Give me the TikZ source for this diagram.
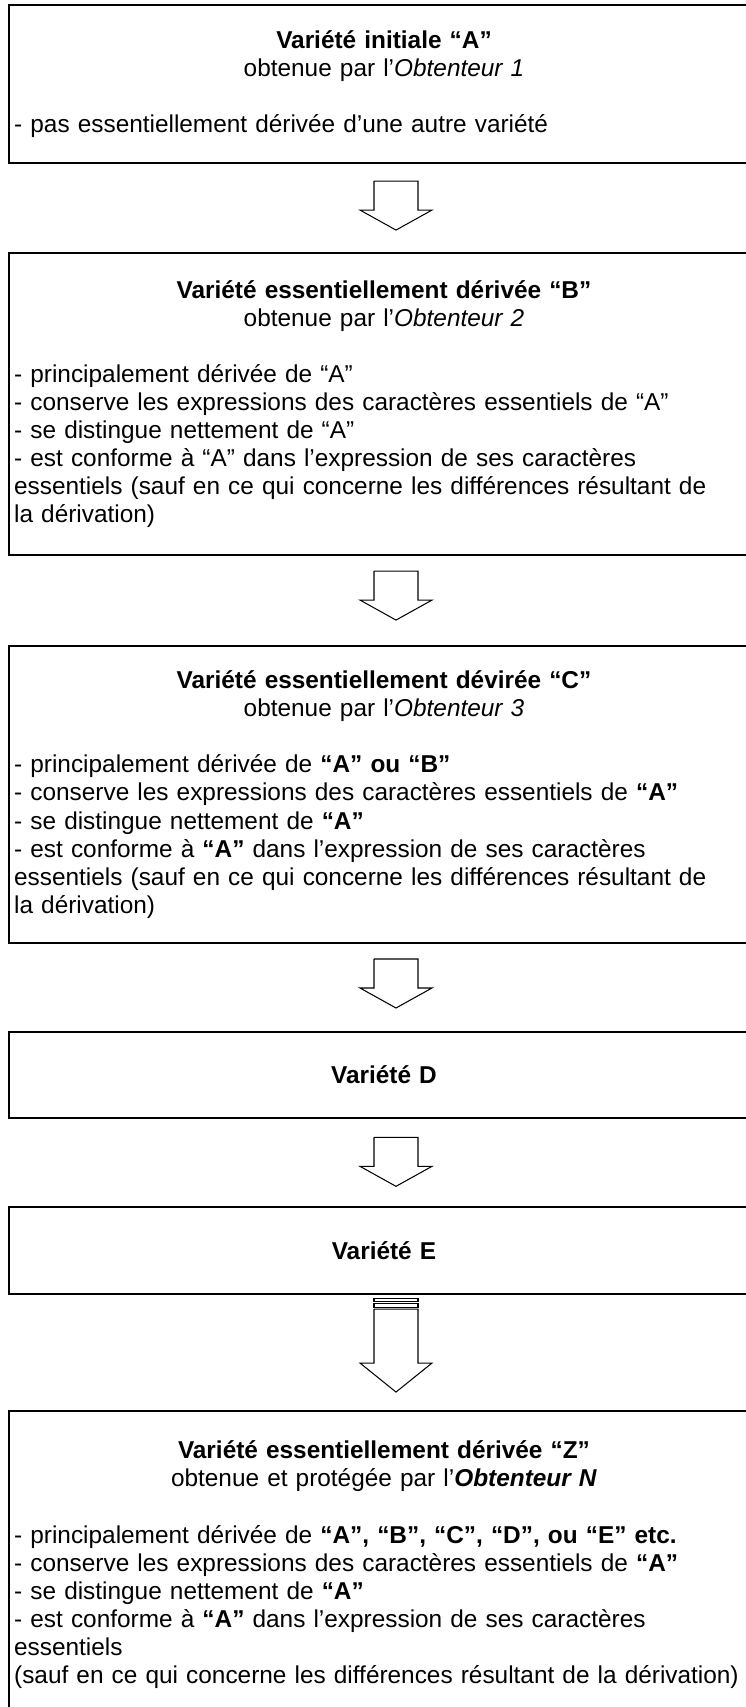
\documentclass[tikz,border=0pt]{standalone}
\usepackage{fontspec}
\setmainfont{Liberation Sans}
\usetikzlibrary{calc}
\setlength{\parindent}{0pt}
\tikzset{
varbox/.style={draw, line width=1pt, minimum width=363pt, text width=358pt, inner xsep=2.5pt, inner ysep=0pt, align=left, font=\fontsize{11.8}{13.6}\selectfont},
blockarrow/.pic={
  \draw[line width=0.5pt] (-22,0) -- (22,0) -- (22,29) -- (36,29) -- (0,49) -- (-36,29) -- (-22,29) -- (-22,0);
  },
stripearrow/.pic={
  \draw[line width=0.5pt] (-22,0) rectangle (22,3);
  \draw[line width=0.5pt] (-22,5) rectangle (22,9);
  \draw[line width=0.5pt] (-22,11) -- (22,11) -- (22,65) -- (36,65) -- (0,94) -- (-36,65) -- (-22,65) -- (-22,11);
  }
}

\begin{document}
\begin{tikzpicture}[x=0.484pt, y=-0.484pt]
\useasboundingbox (0,0) rectangle (746,1707);
\clip (0,0) rectangle (746,1707);
\node[varbox, minimum height=76.5pt] (varA) at (384,84) {{\centering\textbf{Variété initiale “A”}\\ obtenue par l’\textit{Obtenteur 1}\par}
\vspace{13.6pt}
- pas essentiellement dérivée d’une autre variété};
\node[varbox, minimum height=146.2pt] (varB) at (384,404) {{\centering\textbf{Variété essentiellement dérivée “B”}\\ obtenue par l’\textit{Obtenteur 2}\par}
\vspace{13.6pt}
- principalement dérivée de “A”\\
- conserve les expressions des caractères essentiels de “A”\\
- se distingue nettement de “A”\\
- est conforme à “A” dans l’expression de ses caractères\\
essentiels (sauf en ce qui concerne les différences résultant de\\
la dérivation)};
\node[varbox, minimum height=143.7pt] (varC) at (384,794.5) {{\centering\textbf{Variété essentiellement dévirée “C”}\\ obtenue par l’\textit{Obtenteur 3}\par}
\vspace{13.6pt}
- principalement dérivée de \textbf{“A” ou “B”}\\
- conserve les expressions des caractères essentiels de \textbf{“A”}\\
- se distingue nettement de \textbf{“A”}\\
- est conforme à \textbf{“A”} dans l’expression de ses caractères\\
essentiels (sauf en ce qui concerne les différences résultant de\\
la dérivation)};
\node[varbox, minimum height=41.9pt] (varD) at (384,1075) {{\centering\textbf{Variété D}\par}};
\node[varbox, minimum height=42.1pt] (varE) at (384,1250.5) {{\centering\textbf{Variété E}\par}};
\node[varbox, inner ysep=14.5pt, anchor=north] (varZ) at (384,1410) {{\centering\textbf{Variété essentiellement dérivée “Z”}\\ obtenue et protégée par l’\textbf{\textit{Obtenteur N}}\par}
\vspace{13.6pt}
- principalement dérivée de \textbf{“A”, “B”, “C”, “D”, ou “E” etc.}\\
- conserve les expressions des caractères essentiels de \textbf{“A”}\\
- se distingue nettement de \textbf{“A”}\\
- est conforme à \textbf{“A”} dans l’expression de ses caractères\\
essentiels\\
(sauf en ce qui concerne les différences résultant de la dérivation)};
\pic at ($(varA.south)+(12,17)$) {blockarrow};
\pic at ($(varB.south)+(12,15)$) {blockarrow};
\pic at ($(varC.south)+(12,15)$) {blockarrow};
\pic at ($(varD.south)+(12,18)$) {blockarrow};
\pic at ($(varE.south)+(12,3)$) {stripearrow};
\end{tikzpicture}
\end{document}
